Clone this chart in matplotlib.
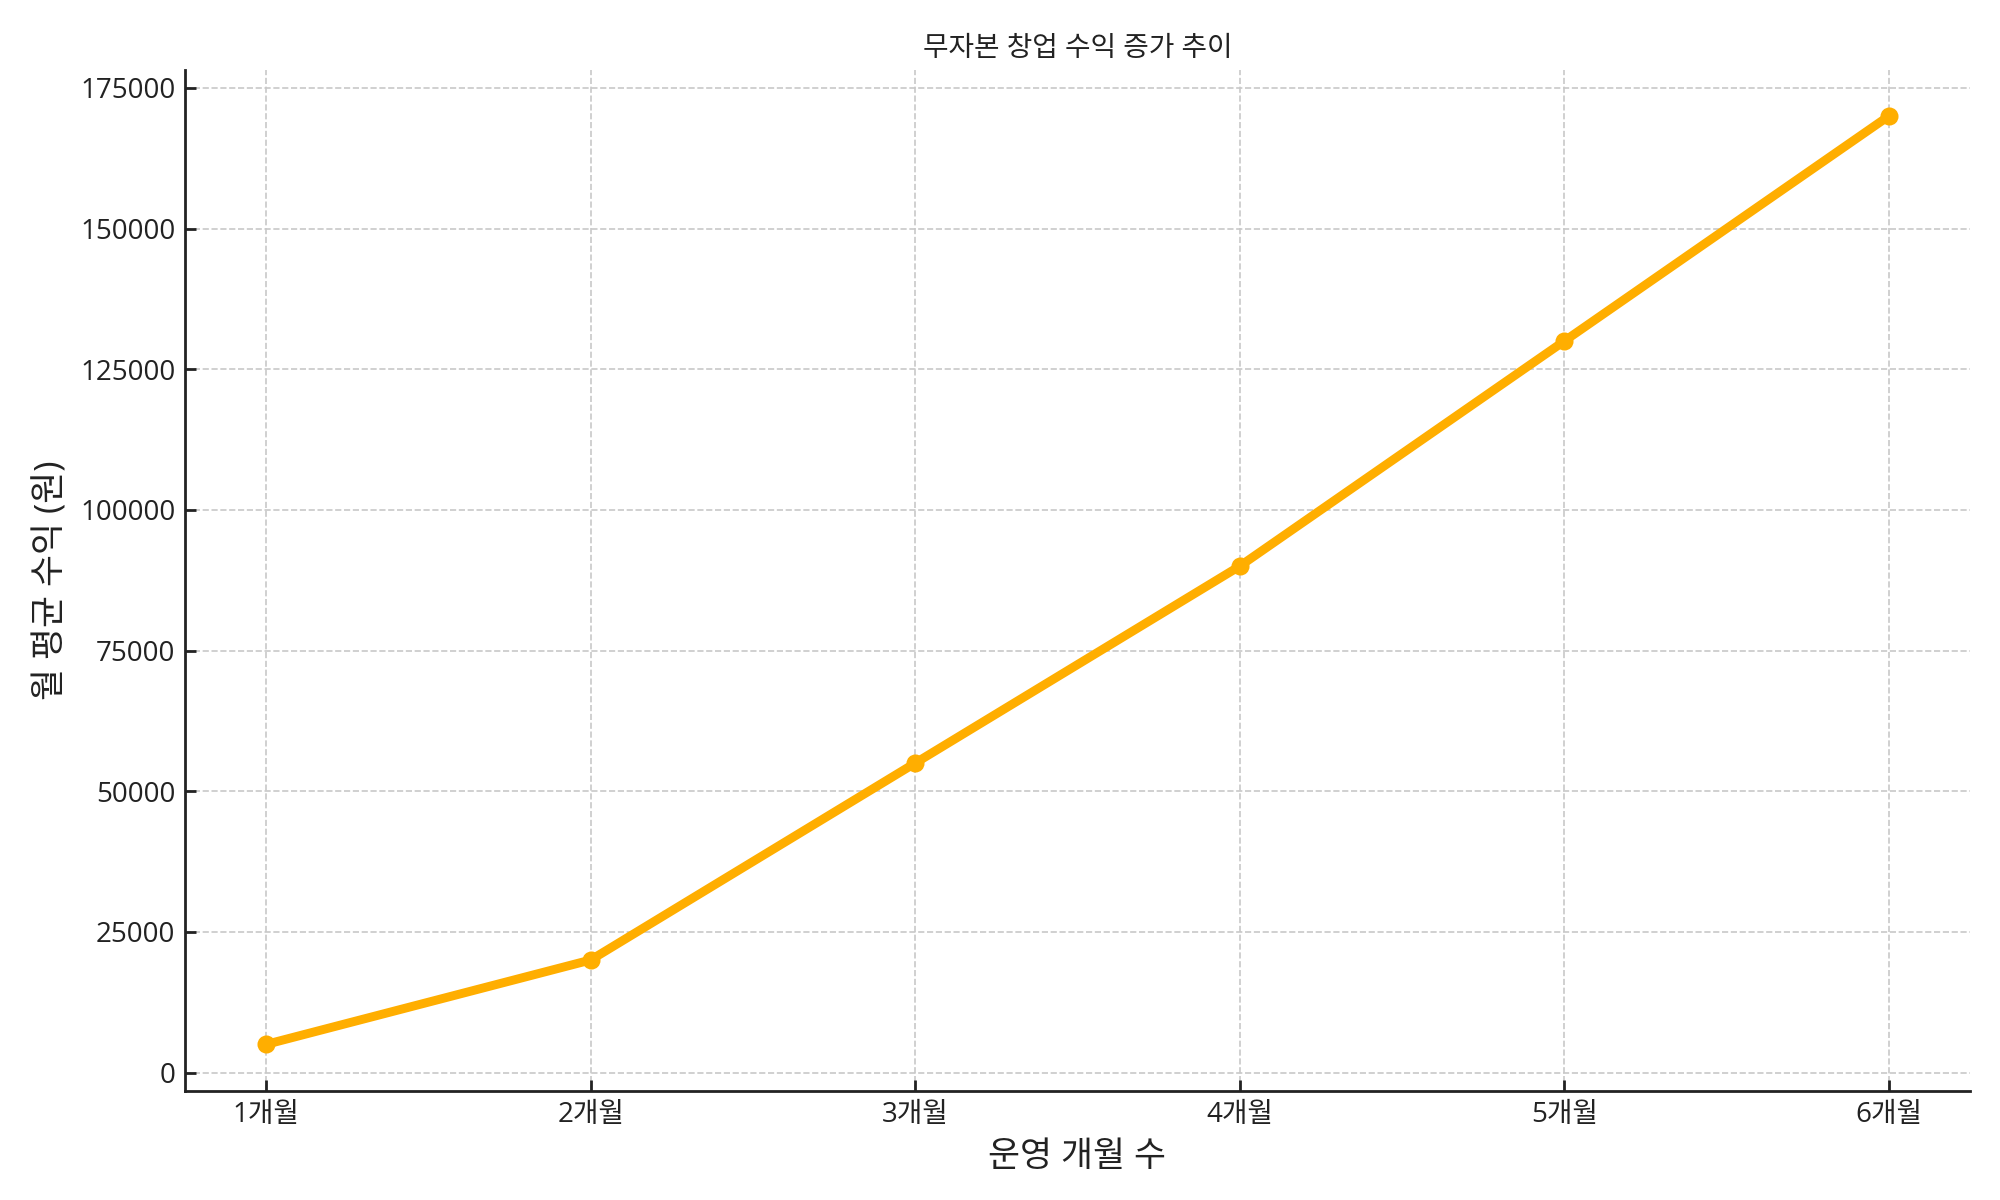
import matplotlib
matplotlib.use("Agg")
import matplotlib.pyplot as plt

months = ["1개월", "2개월", "3개월", "4개월", "5개월", "6개월"]
revenue = [5000, 20000, 55000, 90000, 130000, 170000]
yticks = [0, 25000, 50000, 75000, 100000, 125000, 150000, 175000]

plt.rcParams['font.family'] = ['Open Sans', 'Noto Sans CJK KR', 'DejaVu Sans']

fig, ax = plt.subplots(figsize=(10, 6), dpi=200)
fig.subplots_adjust(left=0.0925, right=0.985, top=0.942, bottom=0.091)

x = list(range(len(months)))
ax.plot(x, revenue, color='#ffae00', linewidth=3.2, marker='o', markersize=5.5, zorder=3)

ax.set_xticks(x)
ax.set_xticklabels(months)
ax.set_yticks(yticks)

ax.grid(True, linestyle='--', color='#c8c8c8', linewidth=0.6)
ax.set_axisbelow(True)
ax.spines['top'].set_visible(False)
ax.spines['right'].set_visible(False)
for s in ('left', 'bottom'):
    ax.spines[s].set_linewidth(1.0)
    ax.spines[s].set_color('#222222')
ax.tick_params(direction='in', length=4, width=1, labelsize=10, colors='#222222')

ax.set_title("무자본 창업 수익 증가 추이", fontsize=10, color='#222222', pad=5)
ax.set_xlabel("운영 개월 수", fontsize=12.5, color='#222222')
ax.set_ylabel("월 평균 수익 (원)", fontsize=12.5, color='#222222')

fig.savefig("out.png", dpi=200)
